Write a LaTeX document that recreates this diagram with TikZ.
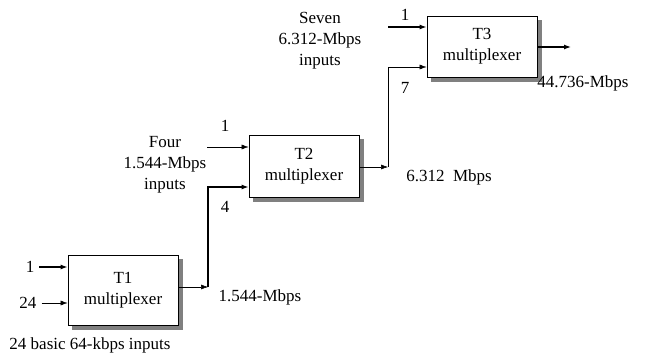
\documentclass[tikz,border=0pt]{standalone}
\usepackage{fontspec}
\setmainfont{Liberation Serif}
\usetikzlibrary{arrows.meta}
\begin{document}
\begin{tikzpicture}[x=1pt,y=-1pt,
  font=\fontsize{17}{21}\selectfont,
  mux/.style={draw,thick,fill=white,minimum width=110pt,minimum height=62pt,inner sep=0pt,align=center},
  shad/.style={fill=black!50},
  lbl/.style={inner sep=0pt,align=center},
  thinarr/.style={line width=0.5pt,-{Latex[length=7pt,width=5pt]}},
  thickarr/.style={line width=1.2pt,-{Latex[length=7pt,width=5pt]}}]
\useasboundingbox (0,0) rectangle (657,356);
% shadows
\fill[shad] (72,259) rectangle (182.5,329.5);
\fill[shad] (253,139) rectangle (363.5,201.5);
\fill[shad] (431,20) rectangle (541.5,81.5);
% boxes
\node[mux,minimum height=70pt] (t1) at (123,290) {T1\\multiplexer};
\node[mux] (t2) at (304,166) {T2\\multiplexer};
\node[mux,minimum height=61pt] (t3) at (482,46.5) {T3\\multiplexer};
% T1 inputs
\node[lbl] (i1a) at (30,267) {1};
\node[lbl] (i1b) at (28,303) {24};
\draw[thickarr] (i1a.east) ++(5,0) coordinate (s1a) -- (s1a -| t1.west);
\draw[thinarr] (i1b.east) ++(5,0) coordinate (s1b) -- (s1b -| t1.west);
\node[lbl] (bas) at (90,345) {24 basic 64-kbps inputs};
% T1 output
\coordinate (c1) at (208,287);
\draw[thinarr] (t1.east |- c1) -- (c1);
\node[lbl] (o1) at (260,297) {1.544-Mbps};
% to T2
\coordinate (c2) at (208,187);
\draw[thickarr] (c1) -- (c2) -- (c2 -| t2.west);
\node[lbl] (n4) at (225,207) {4};
\node[lbl] (n1b) at (225,126) {1};
\coordinate (s2) at (207,147);
\draw[thinarr] (s2) -- (s2 -| t2.west);
\node[lbl] (four) at (165,165) {Four\\1.544-Mbps\\inputs};
% T2 output
\coordinate (c3) at (388,167);
\draw[thinarr] (t2.east |- c3) -- (c3);
\node[lbl] (o2) at (449,177) {6.312\ \ Mbps};
% to T3
\coordinate (c4) at (388,67);
\draw[thinarr] (c3) -- (c4) -- (c4 -| t3.west);
\node[lbl] (n7) at (405,88) {7};
\node[lbl] (n1c) at (405,15) {1};
\coordinate (s3) at (388,27);
\draw[thickarr] (s3) -- (s3 -| t3.west);
\node[lbl] (seven) at (320,41) {Seven\\6.312-Mbps\\inputs};
% T3 output
\coordinate (c5) at (571,47);
\draw[thickarr] (t3.east |- c5) -- (c5);
\node[lbl] (o3) at (583,83) {44.736-Mbps};
\end{tikzpicture}
\end{document}
